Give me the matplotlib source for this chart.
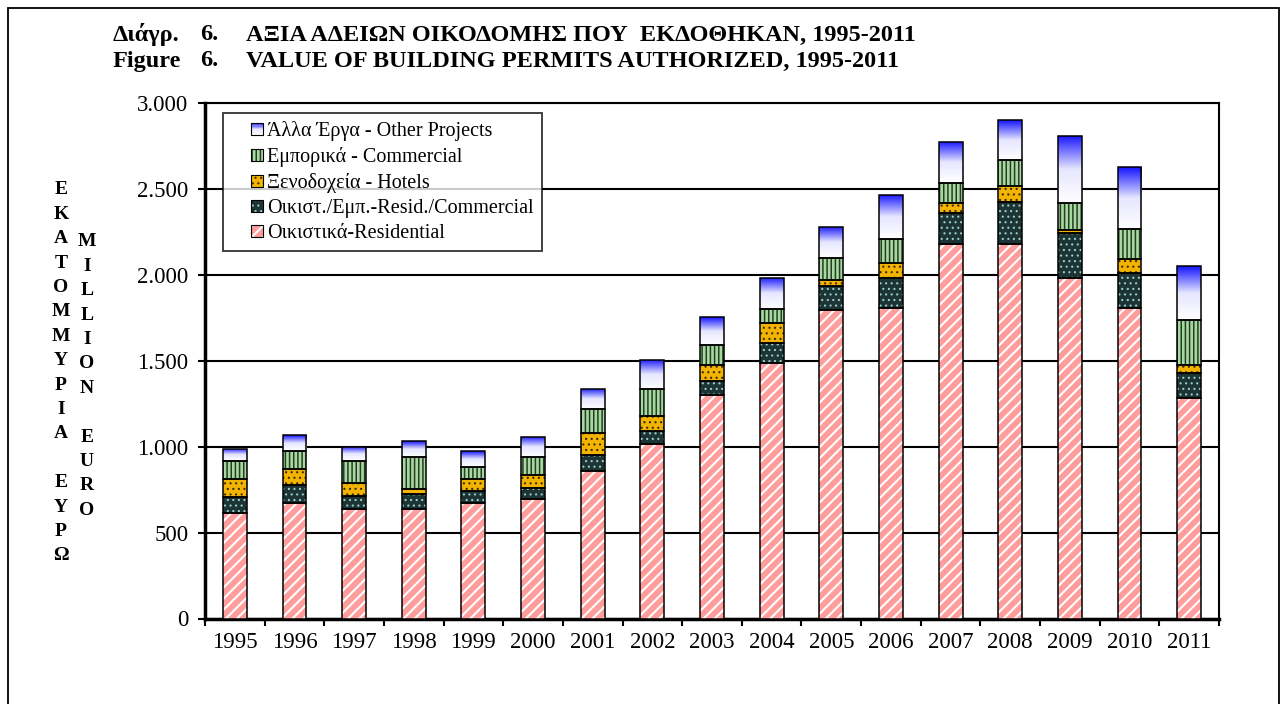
import matplotlib
matplotlib.use("Agg")
import matplotlib.pyplot as plt
import numpy as np
from matplotlib.patches import Rectangle
from matplotlib.colors import LinearSegmentedColormap
from matplotlib.legend_handler import HandlerBase

years = ["1995", "1996", "1997", "1998", "1999", "2000", "2001", "2002", "2003",
         "2004", "2005", "2006", "2007", "2008", "2009", "2010", "2011"]
residential = [613, 672, 637, 637, 672, 695, 857, 1018, 1301, 1485, 1795, 1805, 2181, 2181, 1980, 1805, 1281]
res_commercial = [96, 107, 74, 86, 72, 63, 96, 72, 83, 118, 142, 177, 177, 245, 262, 208, 150]
hotels = [101, 90, 78, 31, 66, 76, 125, 89, 91, 115, 33, 89, 58, 91, 19, 79, 44]
commercial = [108, 106, 127, 187, 73, 105, 140, 154, 117, 81, 126, 138, 117, 151, 155, 175, 262]
other = [70, 93, 84, 92, 92, 118, 117, 171, 161, 183, 184, 258, 241, 232, 392, 359, 314]

labels = ["Οικιστικά-Residential", "Οικιστ./Εμπ.-Resid./Commercial",
          "Ξενοδοχεία - Hotels", "Εμπορικά - Commercial", "Άλλα Έργα - Other Projects"]
yticks = [0, 500, 1000, 1500, 2000, 2500, 3000]
ytick_labels = ["0", "500", "1.000", "1.500", "2.000", "2.500", "3.000"]

serif = ["Liberation Serif", "DejaVu Serif"]
plt.rcParams["font.family"] = serif

W, H = 1281, 704
fig = plt.figure(figsize=(W / 100, H / 100), dpi=100)

def fx(px):
    return px / W

def fy(py):
    return 1 - py / H

AX_L, AX_R, AX_T, AX_B = 205, 1219, 103, 618.5
ax = fig.add_axes([fx(AX_L), fy(AX_B), fx(AX_R) - fx(AX_L), fy(AX_T) - fy(AX_B)])

x = np.arange(len(years))
width = 0.40
edge_lw = 1.1

styles = [
    dict(face="#FF9C9C", hatch="///", hcol="white", hlw=1.5),
    dict(face="#1C3434", hatch="...", hcol="#9CCACA", hlw=0.8),
    dict(face="#F2B400", hatch="...", hcol="#3A2A00", hlw=0.8),
    dict(face="#A8D9A0", hatch="||||", hcol="#253D25", hlw=1.1),
]
series = [residential, res_commercial, hotels, commercial]
bottom = np.zeros(len(years))
for vals, st in zip(series, styles):
    vals = np.array(vals, dtype=float)
    with plt.rc_context({"hatch.linewidth": st["hlw"]}):
        ax.bar(x, vals, width, bottom=bottom, color=st["face"], edgecolor=st["hcol"],
               hatch=st["hatch"], linewidth=0, zorder=3)
    ax.bar(x, vals, width, bottom=bottom, facecolor="none", edgecolor="black",
           linewidth=edge_lw, zorder=4)
    bottom += vals

# Other projects: gradient blue -> white
cmap = LinearSegmentedColormap.from_list("bw", ["#FFFFFF", "#E6E6FF", "#1414FF"])
grad = np.linspace(0, 1, 256).reshape(-1, 1)
other_arr = np.array(other, dtype=float)
bars = ax.bar(x, other_arr, width, bottom=bottom, facecolor="none", edgecolor="black",
              linewidth=edge_lw, zorder=4)
for b in bars:
    x0, y0 = b.get_x(), b.get_y()
    im = ax.imshow(grad, extent=(x0, x0 + b.get_width(), y0, y0 + b.get_height()),
                   origin="lower", cmap=cmap, aspect="auto", zorder=3, interpolation="bilinear")
    im.set_clip_path(b)

ax.set_xlim(-0.5, len(years) - 0.5)
ax.set_ylim(0, 3000)
ax.set_yticks(yticks)
ax.set_yticklabels(ytick_labels, fontsize=16.5, family=serif)
ax.set_xticks(x)
ax.set_xticklabels(years, fontsize=16.5, family=serif)
ax.tick_params(axis="x", length=0, pad=10)
ax.set_xticks(np.arange(-0.5, len(years), 1), minor=True)
ax.tick_params(axis="x", which="minor", length=5, width=1.5, direction="out")
ax.tick_params(axis="y", length=5, width=1.5, direction="out", pad=7)
ax.yaxis.grid(True, color="black", linewidth=1.5, zorder=0)
ax.set_axisbelow(True)
for side in ["left", "bottom"]:
    ax.spines[side].set_linewidth(2.5)
for side in ["top", "right"]:
    ax.spines[side].set_linewidth(1.5)

KEY = 0.6  # key square size in font units


class GradHandler(HandlerBase):
    def create_artists(self, legend, orig_handle, xdescent, ydescent, width, height, fontsize, trans):
        s = KEY * fontsize
        x0 = -xdescent + width - s
        y0 = -ydescent + (height - s) / 2
        arts = []
        n = 10
        for i in range(n):
            c = cmap((i + 0.5) / n)
            arts.append(Rectangle((x0, y0 + s * i / n), s, s / n,
                                  facecolor=c, edgecolor="none", transform=trans))
        arts.append(Rectangle((x0, y0), s, s, facecolor="none",
                              edgecolor="black", linewidth=0.8, transform=trans))
        return arts


class HatchHandler(HandlerBase):
    def __init__(self, st):
        super().__init__()
        self.st = st

    def create_artists(self, legend, orig_handle, xdescent, ydescent, width, height, fontsize, trans):
        st = self.st
        s = KEY * fontsize
        x0 = -xdescent + width - s
        y0 = -ydescent + (height - s) / 2
        with plt.rc_context({"hatch.linewidth": st["hlw"]}):
            r = Rectangle((x0, y0), s, s, facecolor=st["face"],
                          edgecolor=st["hcol"], hatch=st["hatch"], linewidth=0, transform=trans)
        r2 = Rectangle((x0, y0), s, s, facecolor="none",
                       edgecolor="black", linewidth=0.8, transform=trans)
        return [r, r2]


handles = [Rectangle((0, 0), 1, 1) for _ in range(5)]
hmap = {handles[i]: HatchHandler(styles[i]) for i in range(4)}
hmap[handles[4]] = GradHandler()
order = [4, 3, 2, 1, 0]
leg = ax.legend([handles[i] for i in order], [labels[i] for i in order],
                handler_map=hmap, loc="upper left",
                bbox_to_anchor=((223 - AX_L) / (AX_R - AX_L), (AX_B - 113) / (AX_B - AX_T)),
                borderaxespad=0, prop={"family": serif, "size": 14.5},
                frameon=True, fancybox=False,
                edgecolor="black", handlelength=1.6, handleheight=0.6,
                handletextpad=0.2, labelspacing=0.3, borderpad=0.4)
leg.get_frame().set_linewidth(1.3)
leg.set_zorder(10)

# Title
tkw = dict(fontsize=17.5, fontweight="bold", va="center", ha="left", family=serif)
fig.text(fx(113), fy(35), "Διάγρ.", **tkw)
fig.text(fx(200), fy(35), "6.", **tkw)
fig.text(fx(246), fy(35), "ΑΞΙΑ ΑΔΕΙΩΝ ΟΙΚΟΔΟΜΗΣ ΠΟΥ  ΕΚΔΟΘΗΚΑΝ, 1995-2011", **tkw)
fig.text(fx(113), fy(61), "Figure", **tkw)
fig.text(fx(200), fy(61), "6.", **tkw)
fig.text(fx(246), fy(61), "VALUE OF BUILDING PERMITS AUTHORIZED, 1995-2011", **tkw)

# Vertical stacked y labels (right column starts on the third row of the left one)
left_col = "ΕΚΑΤΟΜΜΥΡΙΑ ΕΥΡΩ"
right_col = "MILLION EURO"
step = 24.4
top_row = 190
for i, ch in enumerate(left_col):
    if ch != " ":
        fig.text(fx(61), fy(top_row + i * step), ch, fontsize=14, fontweight="bold",
                 ha="center", va="center", family=serif)
for i, ch in enumerate(right_col):
    if ch != " ":
        fig.text(fx(87), fy(top_row + (i + 2) * step + 3), ch, fontsize=14, fontweight="bold",
                 ha="center", va="center", family=serif)

# Outer border (bottom edge lies outside the picture)
fig.patches.append(Rectangle((fx(8), fy(710)), fx(1279) - fx(8), fy(8) - fy(710),
                             transform=fig.transFigure, facecolor="none",
                             edgecolor="black", linewidth=1.3, clip_on=False))

fig.savefig("out.png", dpi=100)
